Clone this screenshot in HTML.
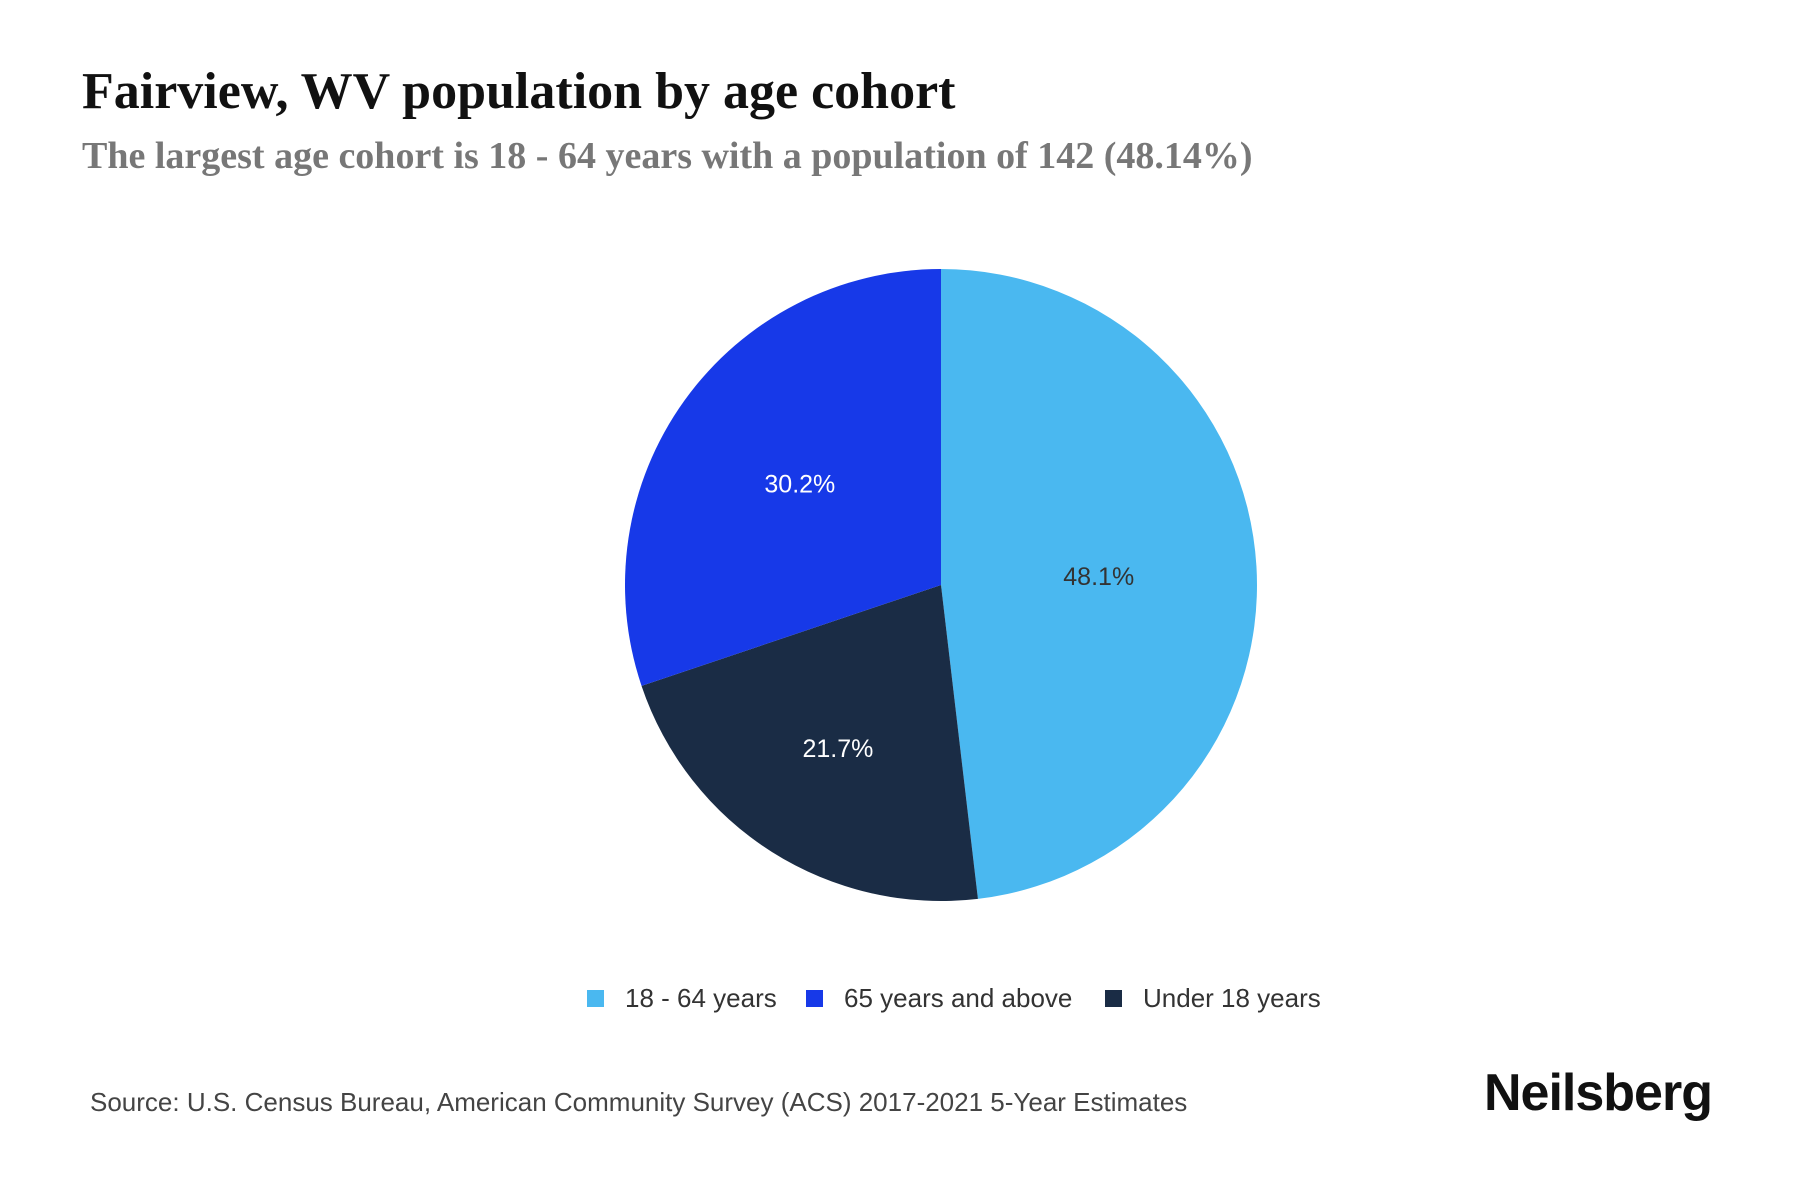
<!DOCTYPE html>
<html><head><meta charset="utf-8"><style>
body{margin:0;width:1800px;height:1200px;background:#fff;overflow:hidden;position:relative}
.t{position:absolute;white-space:nowrap}
</style></head><body>
<div class="t" style="left:82px;top:62px;font:bold 52px 'Liberation Serif',serif;color:#111">Fairview, WV population by age cohort</div>
<div class="t" style="left:82px;top:134px;font:bold 38px 'Liberation Serif',serif;color:#777">The largest age cohort is 18 - 64 years with a population of 142 (48.14%)</div>
<svg id="pie" width="1800" height="1200" style="position:absolute;left:0;top:0"></svg>
<div class="t" style="left:90px;top:1087px;font:26px 'Liberation Sans',sans-serif;color:#444">Source: U.S. Census Bureau, American Community Survey (ACS) 2017-2021 5-Year Estimates</div>
<div class="t" style="left:1484px;top:1063px;font:bold 52px 'Liberation Sans',sans-serif;color:#111;letter-spacing:-1px">Neilsberg</div>
<script>
const categories=["18 - 64 years","Under 18 years","65 years and above"];
const values=[142,64,89];
const labels=["48.1%","21.7%","30.2%"];
const colors=["#4ab8f0","#1a2c45","#1739e8"];
const labelColors=["#333","#fff","#fff"];
const labelRadiusFactor=[0.5,0.61,0.55];
const legendOrder=[0,2,1];
const svg=document.getElementById('pie');
const NS="http://www.w3.org/2000/svg";
const cx=941,cy=585,r=316;
const total=values.reduce((a,b)=>a+b,0);
function pt(a,rr){return [cx+rr*Math.sin(a),cy-rr*Math.cos(a)];}
let a0=0;
values.forEach((v,i)=>{
  const a1=a0+v/total*2*Math.PI;
  const p0=pt(a0,r),p1=pt(a1,r);
  const large=(a1-a0)>Math.PI?1:0;
  const path=document.createElementNS(NS,'path');
  path.setAttribute('d',`M${cx},${cy}L${p0[0]},${p0[1]}A${r},${r} 0 ${large} 1 ${p1[0]},${p1[1]}Z`);
  path.setAttribute('fill',colors[i]);
  
  
  svg.appendChild(path);
  const m=(a0+a1)/2,lp=pt(m,r*labelRadiusFactor[i]);
  const tx=document.createElementNS(NS,'text');
  tx.setAttribute('x',lp[0]);tx.setAttribute('y',lp[1]+9);
  tx.setAttribute('text-anchor','middle');
  tx.setAttribute('font-family','Liberation Sans, sans-serif');
  tx.setAttribute('font-size','25');
  tx.setAttribute('fill',labelColors[i]);
  tx.textContent=labels[i];
  
  
  svg.appendChild(tx);
  a0=a1;
});
const legX=[587,806,1105];
legendOrder.forEach((ci,k)=>{
  const g=document.createElementNS(NS,'g');
  
  
  const rc=document.createElementNS(NS,'rect');
  rc.setAttribute('x',legX[k]);rc.setAttribute('y',990);rc.setAttribute('width',17);rc.setAttribute('height',17);
  rc.setAttribute('fill',colors[ci]);
  g.appendChild(rc);
  const tx=document.createElementNS(NS,'text');
  tx.setAttribute('x',legX[k]+38);tx.setAttribute('y',1007);
  tx.setAttribute('font-family','Liberation Sans, sans-serif');
  tx.setAttribute('font-size','26');tx.setAttribute('fill','#333');
  tx.textContent=categories[ci];
  g.appendChild(tx);
  svg.appendChild(g);
});
</script>
</body></html>
